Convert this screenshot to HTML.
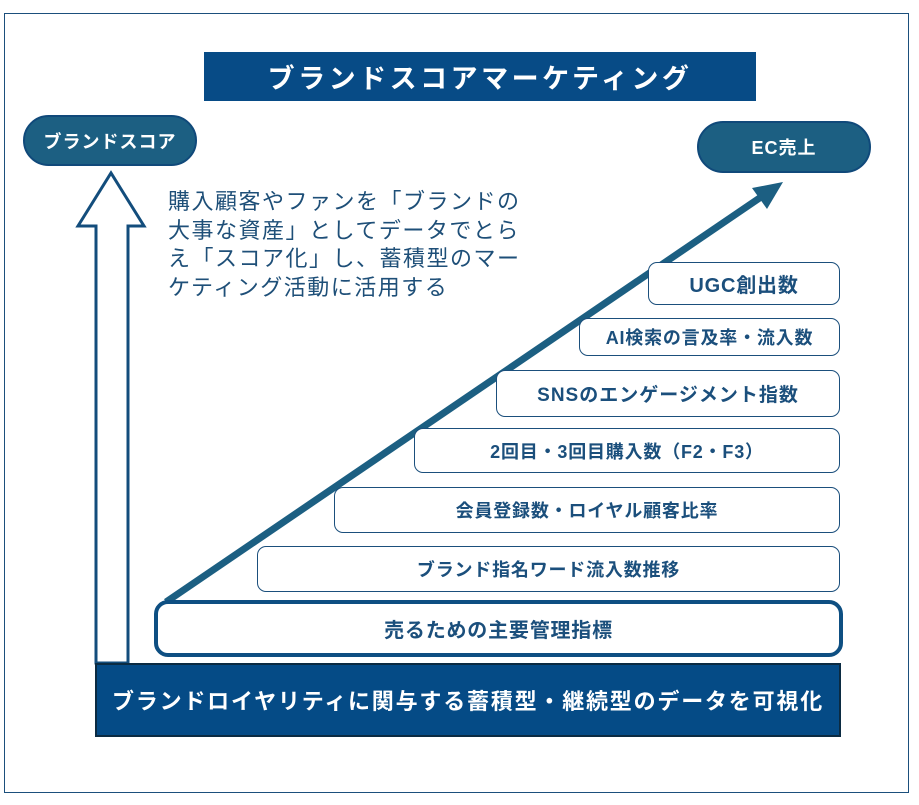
<!DOCTYPE html>
<html><head><meta charset="utf-8"><style>
body{margin:0;width:919px;height:805px;background:#fff;position:relative;overflow:hidden;font-family:"Liberation Sans","Noto Sans CJK JP",sans-serif;}
div{position:absolute;box-sizing:border-box;}
.box{background:#fff;border:1.5px solid #1b4f7c;border-radius:9px;color:#1b4f7c;font-weight:bold;font-size:18px;letter-spacing:0.8px;display:flex;align-items:center;justify-content:center;}
.pill{background:#1c5f82;border:2px solid #10497a;border-radius:26px;color:#fff;font-weight:bold;display:flex;align-items:center;justify-content:center;font-size:18px;letter-spacing:1px;}
</style></head><body>
<div style="left:4px;top:13px;width:905px;height:780px;border:1px solid #1b4f7c;"></div>
<div style="left:204px;top:52px;width:552px;height:49px;background:#074b86;color:#fff;font-weight:bold;font-size:27px;display:flex;align-items:center;justify-content:center;letter-spacing:3.5px;">ブランドスコアマーケティング</div>
<div class="pill" style="left:23px;top:115px;width:174px;height:51px;">ブランドスコア</div>
<div class="pill" style="left:697px;top:121px;width:174px;height:52px;">EC売上</div>
<svg style="position:absolute;left:0;top:0" width="919" height="805">
<polygon points="96,663 96,226 78,226 111,173 144,226 128,226 128,663" fill="#fff" stroke="#134d7c" stroke-width="3"/>
<line x1="166" y1="602" x2="764" y2="195" stroke="#1c5f82" stroke-width="7"/>
<polygon points="783,182 752,188 767,209" fill="#1c5f82"/>
</svg>
<div style="left:168px;top:188px;width:400px;font-size:22px;line-height:28.5px;letter-spacing:1.5px;color:#1e4f78;white-space:nowrap;">購入顧客やファンを「ブランドの<br>大事な資産」としてデータでとら<br>え「スコア化」し、蓄積型のマー<br>ケティング活動に活用する</div>
<div class="box" style="left:648px;top:262px;width:192px;height:43px;font-size:20px;">UGC創出数</div>
<div class="box" style="left:579px;top:318px;width:261px;height:38px;">AI検索の言及率・流入数</div>
<div class="box" style="left:496px;top:370px;width:344px;height:47px;font-size:19px;letter-spacing:1px;">SNSのエンゲージメント指数</div>
<div class="box" style="left:414px;top:428px;width:426px;height:45px;">2回目・3回目購入数（F2・F3）</div>
<div class="box" style="left:334px;top:487px;width:506px;height:46px;">会員登録数・ロイヤル顧客比率</div>
<div class="box" style="left:257px;top:546px;width:583px;height:46px;">ブランド指名ワード流入数推移</div>
<div class="box" style="left:154px;top:600px;width:689px;height:57px;border:4px solid #0e4f82;border-radius:14px;font-size:20px;">売るための主要管理指標</div>
<div style="left:95px;top:663px;width:746px;height:74px;background:#054b86;border:2px solid #0b2b42;color:#fff;font-weight:bold;font-size:22px;letter-spacing:1.8px;display:flex;align-items:center;justify-content:center;">ブランドロイヤリティに関与する蓄積型・継続型のデータを可視化</div>
</body></html>
